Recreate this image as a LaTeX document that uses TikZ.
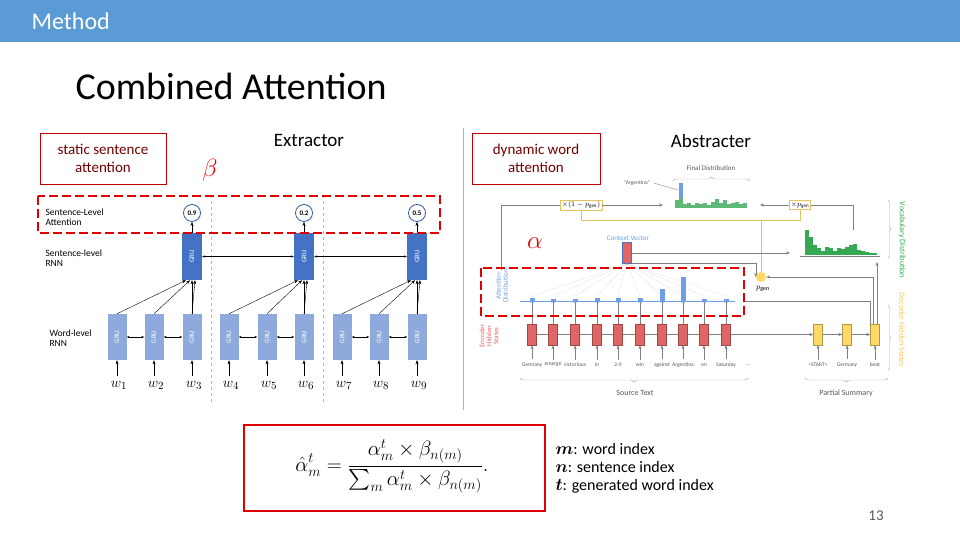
\documentclass[tikz,border=0pt]{standalone}
\usepackage{fontspec}
\setmainfont{Carlito}
\usepackage{amsmath}
\usetikzlibrary{arrows.meta,decorations.pathreplacing}
\definecolor{hdr}{HTML}{5B9BD5}
\definecolor{dred}{HTML}{C00000}
\definecolor{bred}{HTML}{E00000}
\definecolor{sgru}{HTML}{4472C4}
\definecolor{wgru}{HTML}{8EA9DB}
\definecolor{encr}{HTML}{E06666}
\definecolor{decy}{HTML}{FFD966}
\definecolor{vgreen}{HTML}{34A853}
\definecolor{ablue}{HTML}{6D9EEB}
\begin{document}
\begin{tikzpicture}[x=1pt,y=-1pt,
  fs/.style={font=\fontsize{#1}{#1}\selectfont},
  wgrubox/.style={fill=wgru,minimum width=19pt,minimum height=46pt,inner sep=0pt,text=white,font=\fontsize{7}{7}\selectfont},
  att/.style={circle,draw=sgru!80!black,thick,fill=white,minimum size=17pt,inner sep=0pt,font=\fontsize{7}{7}\selectfont\bfseries},
  arr/.style={-{Stealth[length=4pt]},thin},
  darr/.style={{Stealth[length=3pt]}-{Stealth[length=3pt]},thin},
  labbox/.style={draw=dred,thick,fill=white,align=center,text=dred!60!black,font=\fontsize{15}{18}\selectfont,inner sep=3pt},
  reddash/.style={draw=bred,line width=2.5pt,dash pattern=on 9pt off 4pt},
  enc/.style={fill=encr,draw=encr!70!black,minimum width=9pt,minimum height=21pt,inner sep=0pt},
  dec/.style={fill=decy,draw=decy!70!black,minimum width=9pt,minimum height=21pt,inner sep=0pt},
  ybox/.style={draw=decy!90!black,fill=white,inner sep=1.5pt,font=\fontsize{7}{7}\selectfont},
  tiny/.style={font=\fontsize{5.5}{6}\selectfont,text=gray!70!black}
]
\useasboundingbox (0,0) rectangle (960,540);
\fill[white] (0,0) rectangle (960,540);
% header
\fill[hdr] (0,0) rectangle (960,42);
\node[anchor=west,text=white,fs=24] (hd) at (28,21) {Method};
\node[anchor=west,fs=38] (title) at (72,86) {Combined Attention};
% labels
\node[labbox,minimum width=126pt,minimum height=51pt] (ssa) at (103,158.5) {static sentence\\attention};
\node[fs=19] (ext) at (309,140) {Extractor};
\node[text=bred,fs=26] (beta) at (210,170) {$\beta$};
\draw[gray!60,thin] (463,128) -- (463,410);
\node[labbox,minimum width=128pt,minimum height=51pt] (dwa) at (536,158.5) {dynamic word\\attention};
\node[fs=19] (abs) at (711,141) {Abstracter};
\node[text=bred,fs=26] (alpha) at (535,243) {$\alpha$};

% ---------- left diagram ----------
\foreach \x in {211,323} \draw[ablue!70,thick,dashed] (\x,195) -- (\x,402);
\node[anchor=west,fs=9.5,align=left] (sla) at (42,217) {Sentence-Level\\Attention};
\node[anchor=west,fs=9.5,align=left] (slr) at (42,258) {Sentence-level\\RNN};
\node[anchor=west,fs=9.5,align=left] (wlr) at (46,338) {Word-level\\RNN};
\foreach \i/\x in {1/117,2/154,3/192,4/229,5/267,6/304,7/342,8/379,9/417}{
  \node[wgrubox] (w\i) at (\x,337) {\rotatebox{90}{GRU}};
  \node[fs=15] (t\i) at (\x+2,385) {$w_{\i}$};
  \draw[arr] (t\i.north -| w\i) ++(0,-1) -- (w\i.south);
}
\foreach \i/\x/\v in {1/192/0.9,2/304/0.2,3/417/0.5}{
  \node[fill=sgru,minimum width=20pt,minimum height=47pt,inner sep=0pt] (s\i) at (\x,256.5) {};
  \node[text=white,rotate=90,fs=7] at (s\i) {GRU};
  \node[att] (a\i) at (\x,213) {\v};
  \draw[arr] (s\i.north) -- (a\i.south);
}
\foreach \a/\b in {1/2,2/3,4/5,5/6,7/8,8/9} \draw[darr] (w\a.east) -- (w\b.west);
\draw[darr] (s1.east) -- (s2.west);
\draw[darr] (s2.east) -- (s3.west);
\foreach \g/\a/\b/\c in {1/1/2/3,2/4/5/6,3/7/8/9}{
  \draw[arr] (w\a.north) -- ([xshift=-6pt]s\g.south);
  \draw[arr] (w\b.north) -- ([xshift=-2pt]s\g.south);
  \draw[arr] (w\c.north) -- (s\g.south);
  \draw[arr] (w\c.north) -- ([xshift=3pt]s\g.south);
}
\draw[reddash] (38,196) rectangle (440,233);

% ---------- right diagram ----------
\foreach \i/\x/\w in {1/532/Germany,2/553/emerge,3/575/victorious,4/597/in,5/618/2-0,6/640/win,7/662/against,8/683/Argentina,9/704/on,10/726/Saturday}{
  \node[enc] (e\i) at (\x,334.5) {};
  \node[tiny] (sw\i) at (\x,365) {\w};
  \draw[arr,gray] (sw\i.north) -- (e\i.south);
  \coordinate (b\i) at (\x,299);
  \draw[arr,gray] (e\i.north) -- (b\i);
}
\foreach \a/\b in {1/2,2/3,3/4,4/5,5/6,6/7,7/8,8/9,9/10} \draw[gray,thin] (e\a.east) -- (e\b.west);
\node[tiny] (dots) at (748,365) {...};
\coordinate (edots) at (745,334.5);
\draw[gray,thin] (e10.east) -- (edots);
\foreach \i/\x/\w in {1/818/<START>,2/847/Germany,3/875/beat}{
  \node[dec] (d\i) at (\x,334.5) {};
  \node[tiny] (dw\i) at (\x,365) {\w};
  \draw[arr,gray] (dw\i.north) -- (d\i.south);
}
\draw[arr,gray] (edots) -- (d1.west);
\draw[arr,gray] (d1.east) -- (d2.west);
\draw[arr,gray] (d2.east) -- (d3.west);
\draw[ablue,thin] (520,301) -- (735,301);
\foreach \x/\h in {532/3,553/2,575/2,597/3,618/3,640/3,662/12,683/24,704/2,726/2}
  \fill[ablue] (\x-2.5,301) rectangle (\x+2.5,301-\h);
\node[fill=encr,draw=sgru,thick,minimum width=9pt,minimum height=21pt,inner sep=0pt] (cv) at (627,253) {};
\node[text=ablue,fs=7] (cvl) at (628,238) {Context Vector};
\foreach \x in {532,553,575,597,618,640,662,683,704,726} \draw[gray!50,densely dotted] (\x,296) -- (cv.south);
\node[text=gray!70!black,fs=7] (fdl) at (711,168) {Final Distribution};
\draw[gray!60,decorate,decoration={brace,amplitude=4pt}] (673,181) -- (750,181);
\foreach \x/\h in {675/8,679/25,683/4,687/5,691/3,695/5,699/4,703/5,707/3,711/6,715/9,719/5,723/8,727/4,731/5,735/6,739/4,743/5}
  \fill[vgreen!80] (\x,208) rectangle (\x+3.5,208-\h);
\fill[ablue] (679,183) rectangle (682.5,198);
\node[tiny] (arg) at (637,183) {``Argentina''};
\draw[gray,thin] (arg.east) -- (678,190);
\foreach \x/\h in {805/25,809/18,813/10,817/7,821/4,825/8,829/7,833/4,837/7,841/6,845/8,849/10,853/11,857/5,861/4,865/3,869/2,873/2}
  \fill[vgreen] (\x,255) rectangle (\x+3.5,255-\h);
\draw[gray,thin] (800,256) -- (880,256);
\node[ybox] (m1) at (581,205) {$\times(1-p_{\mathrm{gen}})$};
\node[ybox] (m2) at (800,205) {$\times p_{\mathrm{gen}}$};
\node[circle,fill=decy,minimum size=10pt,inner sep=0pt] (pg) at (761,277) {};
\node[fs=8] (pgl) at (763,289) {$p_{\mathrm{gen}}$};
\draw[arr,gray] (m1.east) -- (663,205);
\draw[arr,gray] (m2.west) -- (760,205);
\draw[gray,thin] (501,270) |- (m1.west);
\draw[gray,thin] (853,230) |- (m2.east);
\draw[decy!90!black,thin] (pg.north) -- (pg |- 0,220) -| (m1.south);
\draw[decy!90!black,thin] (pg |- 0,220) -| (m2.south);
\draw[arr,gray] (cv.east) -- (790,253);
\draw[arr,gray] (cv.east) ++(0,10) -| (pg.west);
\draw[arr,gray] (877,324) -- (877,262);
\draw[arr,gray] (873,324) -- (873,277) -- (pg.east);
\draw[gray,thin] (745,301) -- (870,301) -- (870,324);
\node[rotate=-90,text=vgreen,fs=8] (vdl) at (902,240) {Vocabulary Distribution};
\node[rotate=-90,text=decy!80!orange,fs=8] (dhl) at (902,330) {Decoder Hidden States};
\node[rotate=90,text=ablue,fs=7,align=center] (adl) at (502,286) {Attention\\Distribution};
\node[rotate=90,text=encr,fs=7,align=center] (ehl) at (489,336) {Encoder\\Hidden\\States};
\draw[gray!60,decorate,decoration={brace,amplitude=3pt}] (888,200) -- (888,258);
\draw[gray!60,decorate,decoration={brace,amplitude=3pt}] (888,305) -- (888,370);
\draw[gray!60,decorate,decoration={brace,amplitude=4pt,mirror}] (520,378) -- (748,378);
\node[text=gray!70!black,fs=8] (st) at (635,393) {Source Text};
\draw[gray!60,decorate,decoration={brace,amplitude=4pt,mirror}] (805,378) -- (888,378);
\node[text=gray!70!black,fs=8] (ps) at (846,393) {Partial Summary};
\draw[reddash] (481,268) rectangle (744,316);

% ---------- formula ----------
\node[draw=bred,line width=1.5pt,minimum width=301pt,minimum height=86pt] (fb) at (394.5,468) {};
\node[fs=21] (form) at (392,466) {$\displaystyle \hat{\alpha}^t_m=\frac{\alpha^t_m\times\beta_{n(m)}}{\sum_m\alpha^t_m\times\beta_{n(m)}}.$};
\node[anchor=west,fs=16,align=left] (lst) at (552,468) {$\boldsymbol{m}$: word index\\[2pt]$\boldsymbol{n}$: sentence index\\[2pt]$\boldsymbol{t}$: generated word index};
\node[fs=15,text=gray!70!black] (pn) at (876,516) {13};
\end{tikzpicture}
\end{document}
